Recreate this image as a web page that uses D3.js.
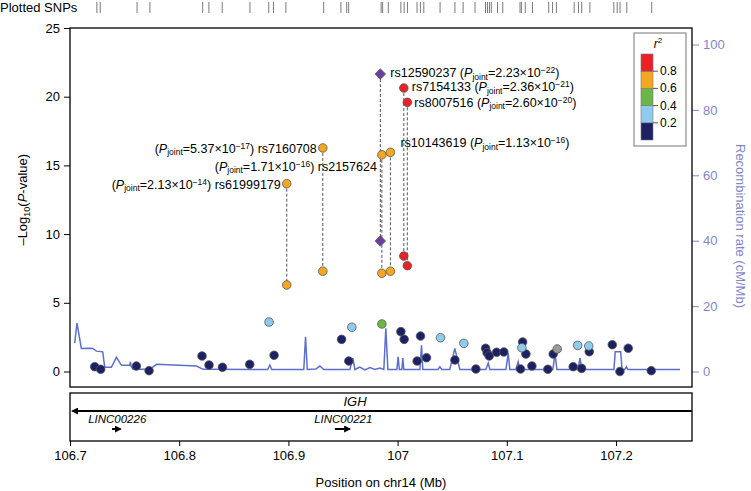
<!DOCTYPE html>
<html>
<head>
<meta charset="utf-8">
<script src="https://cdn.jsdelivr.net/npm/d3@7"></script>
<style>
  body { margin: 0; background: #fff; }
  svg { font-family: "Liberation Sans", Arial, sans-serif; }
</style>
</head>
<body>
<svg id="chart" width="751" height="491"></svg>
<script>
// ---- data ----
// background SNPs: position (Mb), -log10(P), r2 (null = no LD info)
const bgPos = [106.7226, 106.7281, 106.7608, 106.7724, 106.8209, 106.8273, 106.8396, 106.8646, 106.8869,
  106.9487, 106.9553, 107.0030, 107.0060, 107.0210, 107.0179, 107.0265, 107.0525, 107.0717, 107.0806,
  107.0820, 107.0839, 107.0907, 107.0973, 107.1145, 107.1175, 107.1230, 107.1126, 107.1376, 107.1425,
  107.1608, 107.1685, 107.1755, 107.1966, 107.2036, 107.2112, 107.2323,
  106.8823, 106.9581, 107.0393, 107.0607, 107.1138, 107.1649, 107.1750,
  106.9856, 107.1462];
const bgLogP = [0.35, 0.16, 0.40, 0.06, 1.13, 0.47, 0.31, 0.52, 1.18,
  2.34, 0.76, 2.90, 2.34, 2.58, 0.76, 1.00, 0.84, 0.18, 1.69,
  1.37, 1.13, 1.40, 1.42, 2.15, 1.27, 0.40, 0.18, 0.16, 1.27,
  0.35, 0.23, 1.44, 1.95, 0.00, 1.69, 0.06,
  3.60, 3.22, 2.46, 2.05, 1.73, 1.90, 1.86,
  3.46, 1.64];
const bgR2 = [0.1, 0.1, 0.1, 0.1, 0.1, 0.1, 0.1, 0.1, 0.1,
  0.1, 0.1, 0.1, 0.1, 0.1, 0.1, 0.1, 0.1, 0.1, 0.1,
  0.1, 0.1, 0.1, 0.1, 0.1, 0.1, 0.1, 0.1, 0.1, 0.1,
  0.1, 0.1, 0.1, 0.1, 0.1, 0.1, 0.1,
  0.3, 0.3, 0.3, 0.3, 0.3, 0.3, 0.3,
  0.5, null];

// labelled SNPs: single-SNP P (lower point) and joint P (upper point)
const leadIds = ["rs61999179", "rs7160708", "rs2157624", "rs12590237", "rs10143619", "rs7154133", "rs8007516"];
const leadPos = [106.8985, 106.9315, 106.9856, 106.9842, 106.9934, 107.0057, 107.0089];
const leadLogP = [6.3, 7.3, 7.15, 9.5, 7.3, 8.4, 7.7];
const leadJointLogP = [13.67, 16.27, 15.77, 21.65, 15.95, 20.63, 19.59];
const leadJointMant = ["2.13", "5.37", "1.71", "2.23", "1.13", "2.36", "2.60"];
const leadJointExp = ["14", "17", "16", "22", "16", "21", "20"];
const leadR2 = [0.7, 0.7, 0.7, 1, 0.7, 0.9, 0.9];
const leadIsIndex = [false, false, false, true, false, false, false];

// recombination rate (cM/Mb)
const recPos = [106.7043, 106.7064, 106.7104, 106.7180, 106.7208, 106.7242, 106.7300, 106.7318, 106.7379,
  106.7425, 106.7471, 106.7547, 106.7553, 106.7559, 106.7577, 106.7730, 106.7792, 106.8158, 106.8219,
  106.8811, 106.8830, 106.8848, 106.9141, 106.9157, 106.9173, 106.9251, 106.9288, 106.9324, 106.9563,
  106.9590, 106.9609, 106.9654, 106.9700, 106.9746, 106.9792, 106.9838, 106.9874, 106.9892, 106.9911,
  106.9993, 107.0005, 107.0016, 107.0039, 107.0048, 107.0057, 107.0204, 107.0219, 107.0231, 107.0369,
  107.0387, 107.0405, 107.0478, 107.0524, 107.0570, 107.0808, 107.0830, 107.0845, 107.0992, 107.1013,
  107.1028, 107.1083, 107.1104, 107.1120, 107.1422, 107.1441, 107.1459, 107.1578, 107.1594, 107.1606,
  107.1652, 107.1670, 107.1688, 107.1981, 107.1993, 107.2043, 107.2055, 107.2080, 107.2096, 107.2109,
  107.2586];
const recRate = [8.66, 14.83, 7.05, 7.14, 7.05, 6.23, 6.02, 1.28, 1.28,
  4.32, 1.88, 1.88, 2.98, 1.67, 0.67, 0.67, 2.19, 1.67, 0.67,
  0.61, 1.98, 0.61, 0.61, 10.58, 0.61, 0.76, 1.67, 0.61, 0.61,
  4.10, 0.61, 1.37, 0.46, 1.22, 0.61, 1.06, 0.61, 13.22, 0.61,
  0.61, 4.50, 0.61, 0.61, 4.10, 0.61, 0.61, 8.05, 0.61, 0.61,
  1.46, 0.61, 0.61, 7.05, 0.61, 0.61, 2.58, 0.61, 0.61, 5.53,
  0.61, 0.61, 2.98, 0.61, 0.61, 5.53, 0.61, 0.61, 2.49, 0.61,
  0.61, 4.10, 0.61, 0.61, 6.02, 6.02, 0.61, 0.61, 1.46, 0.61,
  0.61];

// all plotted SNP positions for the rug on top
const rugPos = [106.7246, 106.7277, 106.7614, 106.7732, 106.8215, 106.8272, 106.8394, 106.8648, 106.8820,
  106.8863, 106.8977, 106.9323, 106.9481, 106.9534, 106.9552, 106.9849, 106.9863, 106.9915, 107.0030,
  107.0060, 107.0091, 107.0178, 107.0209, 107.0240, 107.0389, 107.0525, 107.0600, 107.0709, 107.0805,
  107.0823, 107.0841, 107.0858, 107.0915, 107.0963, 107.1121, 107.1134, 107.1169, 107.1235, 107.1384,
  107.1419, 107.1454, 107.1617, 107.1656, 107.1686, 107.1761, 107.1980, 107.2011, 107.2037, 107.2099,
  107.2327];

// genes: name, start, end, strand
const geneNames = ["IGH", "LINC00226", "LINC00221"];
const geneStart = [106.7005, 106.7385, 106.9425];
const geneEnd = [107.2695, 106.7480, 106.9580];
const geneStrand = [-1, 1, 1];

const xTicks = [106.7, 106.8, 106.9, 107.0, 107.1, 107.2];
const yTicks = [0, 5, 10, 15, 20, 25];
const recTicks = [0, 20, 40, 60, 80, 100];
const legendBreaks = [0.2, 0.4, 0.6, 0.8];
const legendColors = ["#1c2163", "#8fcbec", "#6cb744", "#f6a623", "#ec2027"];

// ---- layout ----
const pLeft = 70, pRight = 692, pTop = 28, pBottom = 387;
const geneTop = 393, geneBottom = 441;
const recColor = "#5d6fcc", recText = "#7f87c8";

const svg = d3.select("#chart");

const x = d3.scaleLinear().domain([106.7, 107.2696]).range([pLeft, pRight]);
const y = d3.scaleLinear().domain([0, 25]).range([371.5, pTop]);
const yRec = d3.scaleLinear().domain([0, 100]).range([371.5, 44.5]);
const r2Color = d3.scaleThreshold().domain(legendBreaks).range(legendColors);

// rug
svg.append("text").attr("x", 0).attr("y", 12).attr("font-size", 13).text("Plotted SNPs");
svg.append("g").selectAll("line").data(rugPos).join("line")
  .attr("x1", d => x(d)).attr("x2", d => x(d))
  .attr("y1", 2).attr("y2", 13)
  .attr("stroke", "#7a7a7a").attr("stroke-width", 1);

// left axis
const yAxis = svg.append("g").attr("transform", `translate(${pLeft},0)`)
  .call(d3.axisLeft(y).tickValues(yTicks).tickSize(6).tickPadding(4).tickSizeOuter(0));
yAxis.select(".domain").remove();
yAxis.selectAll("text").attr("font-size", 13).attr("font-family", null).attr("fill", "#000");
yAxis.selectAll("line").attr("stroke", "#000");

const yTitle = svg.append("text")
  .attr("transform", `translate(27,${(371.5 + pTop) / 2}) rotate(-90)`)
  .attr("text-anchor", "middle").attr("font-size", 13);
yTitle.append("tspan").text("\u2013Log");
yTitle.append("tspan").attr("font-size", 9).attr("dy", 3).text("10");
yTitle.append("tspan").attr("dy", -3).text("(");
yTitle.append("tspan").attr("font-style", "italic").text("P");
yTitle.append("tspan").text("-value)");

// right axis
const rAxis = svg.append("g").attr("transform", `translate(${pRight},0)`)
  .call(d3.axisRight(yRec).tickValues(recTicks).tickSize(7).tickPadding(4).tickSizeOuter(0));
rAxis.select(".domain").remove();
rAxis.selectAll("text").attr("font-size", 13).attr("font-family", null).attr("fill", recText);
rAxis.selectAll("line").attr("stroke", recText);
svg.append("text")
  .attr("transform", `translate(736,226) rotate(90)`)
  .attr("text-anchor", "middle").attr("font-size", 13).attr("fill", recText)
  .text("Recombination rate (cM/Mb)");

// recombination line
const recData = recPos.map((p, i) => [p, recRate[i]]);
svg.append("path").datum(recData)
  .attr("fill", "none").attr("stroke", recColor).attr("stroke-width", 1.5)
  .attr("d", d3.line().x(d => x(d[0])).y(d => yRec(d[1])));

// dashed connectors between single and joint P
svg.append("g").selectAll("line").data(leadIds).join("line")
  .attr("x1", (d, i) => x(leadPos[i])).attr("x2", (d, i) => x(leadPos[i]))
  .attr("y1", (d, i) => y(leadJointLogP[i])).attr("y2", (d, i) => y(leadLogP[i]))
  .attr("stroke", "#555").attr("stroke-width", 1).attr("stroke-dasharray", "3,2");

// background points
const bg = bgPos.map((p, i) => ({ p, v: bgLogP[i], r2: bgR2[i] }));
svg.append("g").selectAll("circle").data(bg).join("circle")
  .attr("cx", d => x(d.p)).attr("cy", d => y(d.v)).attr("r", 4.3)
  .attr("fill", d => d.r2 == null ? "#9a9a9a" : r2Color(d.r2))
  .attr("stroke", "#555").attr("stroke-width", 0.8);

// lead points (lower = single, upper = joint)
const leads = leadIds.map((id, i) => ({ id, i }));
const diamond = d3.symbol().type(d3.symbolDiamond2).size(70);
[leadLogP, leadJointLogP].forEach(vals => {
  svg.append("g").selectAll("path").data(leads).join("path")
    .attr("transform", d => `translate(${x(leadPos[d.i])},${y(vals[d.i])})`)
    .attr("d", d => leadIsIndex[d.i] ? diamond() : d3.symbol().type(d3.symbolCircle).size(58)())
    .attr("fill", d => leadIsIndex[d.i] ? "#6b3d9e" : r2Color(leadR2[d.i]))
    .attr("stroke", "#555").attr("stroke-width", 0.8);
});

// labels
const labelOffsets = [[-6, 1, "end"], [-6, 1, "end"], [-5, 12, "end"], [10, -1, "start"],
  [10, -9, "start"], [8, -1, "start"], [7, 0.5, "start"]];
leads.forEach(d => {
  const [dx, dy, anchor] = labelOffsets[d.i];
  const t = svg.append("text")
    .attr("x", x(leadPos[d.i]) + dx).attr("y", y(leadJointLogP[d.i]) + dy + 4)
    .attr("text-anchor", anchor).attr("font-size", 12.5);
  const pPart = () => {
    t.append("tspan").text("(");
    t.append("tspan").attr("font-style", "italic").text("P");
    t.append("tspan").attr("font-size", 8.5).attr("dy", 2.5).text("joint");
    t.append("tspan").attr("dy", -2.5).text("=" + leadJointMant[d.i] + "\u00d710");
    t.append("tspan").attr("font-size", 8.5).attr("dy", -4).text("\u2212" + leadJointExp[d.i]);
    t.append("tspan").attr("dy", 4).text(")");
  };
  if (anchor === "end") {
    pPart();
    t.append("tspan").text(" " + d.id);
  } else {
    t.append("tspan").text(d.id + " ");
    pPart();
  }
});

// frame
svg.append("rect").attr("x", pLeft).attr("y", pTop).attr("width", pRight - pLeft).attr("height", pBottom - pTop)
  .attr("fill", "none").attr("stroke", "#000").attr("stroke-width", 1.3);

// legend
const lg = svg.append("g");
lg.append("rect").attr("x", 634).attr("y", 33).attr("width", 52).attr("height", 113)
  .attr("fill", "#fff").attr("stroke", "#777").attr("stroke-width", 1);
const lgTitle = lg.append("text").attr("x", 658).attr("y", 48).attr("text-anchor", "middle").attr("font-size", 12);
lgTitle.append("tspan").attr("font-style", "italic").text("r");
lgTitle.append("tspan").attr("font-size", 8).attr("dy", -5).text("2");
const lgY = d3.scaleLinear().domain([1, 0]).range([54, 140]);
lg.selectAll("rect.bin").data(legendColors).join("rect").attr("class", "bin")
  .attr("x", 641).attr("width", 12)
  .attr("y", (c, i) => lgY((i + 1) * 0.2)).attr("height", (c, i) => lgY(i * 0.2) - lgY((i + 1) * 0.2))
  .attr("fill", c => c).attr("stroke", "#777").attr("stroke-width", 0.6);
lg.selectAll("line.tk").data(legendBreaks).join("line").attr("class", "tk")
  .attr("x1", 653).attr("x2", 658).attr("y1", d => lgY(d)).attr("y2", d => lgY(d))
  .attr("stroke", "#555");
lg.selectAll("text.tl").data(legendBreaks).join("text").attr("class", "tl")
  .attr("x", 660).attr("y", d => lgY(d) + 4).attr("font-size", 12).text(d => d.toFixed(1));

// gene track
svg.append("rect").attr("x", pLeft).attr("y", geneTop).attr("width", pRight - pLeft).attr("height", geneBottom - geneTop)
  .attr("fill", "none").attr("stroke", "#000").attr("stroke-width", 1.3);
const defs = svg.append("defs");
defs.append("marker").attr("id", "ah").attr("viewBox", "0 0 10 10").attr("refX", 8).attr("refY", 5)
  .attr("markerWidth", 3.5).attr("markerHeight", 3.5).attr("orient", "auto-start-reverse")
  .append("path").attr("d", "M0,0L10,5L0,10Z").attr("fill", "#000");
const geneRow = [411, 429];
const labelRow = [402, 419];
geneNames.forEach((g, i) => {
  const row = i === 0 ? 0 : 1;
  const x0 = x(geneStart[i]), x1 = x(geneEnd[i]);
  const line = svg.append("line").attr("y1", geneRow[row]).attr("y2", geneRow[row])
    .attr("stroke", "#000").attr("stroke-width", 2);
  if (geneStrand[i] < 0) {
    line.attr("x1", x1).attr("x2", x0 + 2).attr("marker-end", "url(#ah)");
  } else {
    line.attr("x1", x0).attr("x2", x1 - 2).attr("marker-end", "url(#ah)");
  }
  svg.append("text").attr("x", i === 0 ? 355 : (x0 + x1) / 2)
    .attr("y", labelRow[row] + 4).attr("text-anchor", "middle")
    .attr("font-size", i === 0 ? 13 : 11.5).attr("font-style", "italic").text(g);
});

// x axis
const xAxis = svg.append("g").attr("transform", `translate(0,${geneBottom})`)
  .call(d3.axisBottom(x).tickValues(xTicks).tickSize(5).tickPadding(5).tickSizeOuter(0)
    .tickFormat(d => String(+d.toFixed(1))));
xAxis.select(".domain").remove();
xAxis.selectAll("text").attr("font-size", 13).attr("font-family", null).attr("fill", "#000");
xAxis.selectAll("line").attr("stroke", "#000");
svg.append("text").attr("x", (pLeft + pRight) / 2).attr("y", 487).attr("text-anchor", "middle")
  .attr("font-size", 13).text("Position on chr14 (Mb)");
</script>
</body>
</html>
